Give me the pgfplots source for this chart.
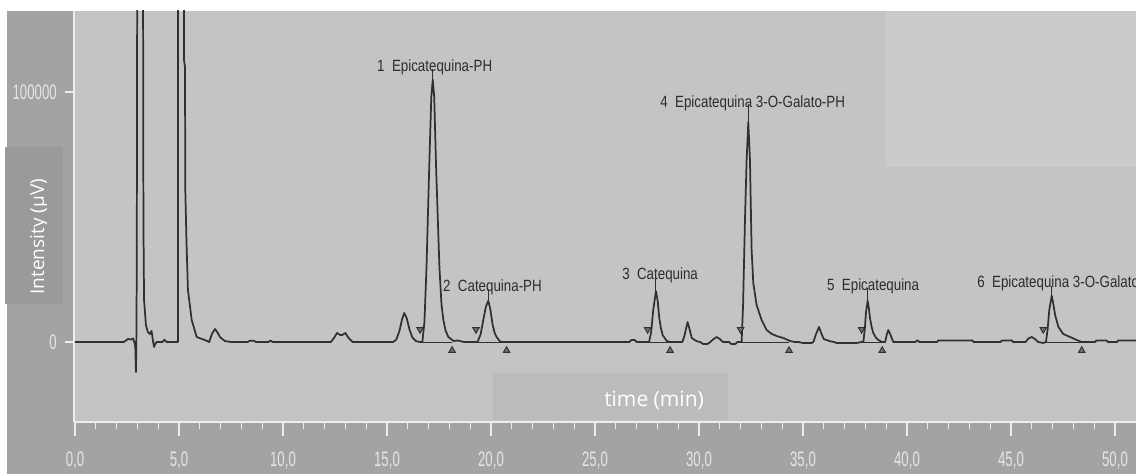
\documentclass[border=0pt]{standalone}
\usepackage{pgfplots}
\pgfplotsset{compat=1.18}
\usepackage{fontspec}
\setmainfont{Liberation Sans}
\newfontfamily\titlefont{Open Sans}

\definecolor{outerbg}{HTML}{A3A3A3}
\definecolor{plotbg}{HTML}{C4C4C4}
\definecolor{cornerbg}{HTML}{CBCBCB}
\definecolor{timebg}{HTML}{BBBBBB}
\definecolor{ybox}{HTML}{9A9A9A}
\definecolor{axcol}{HTML}{EDEDED}
\definecolor{ticktext}{HTML}{E6E6E6}
\definecolor{curve}{HTML}{303030}
\definecolor{lbltext}{HTML}{2C2C2C}
\definecolor{trifill}{HTML}{707070}

% narrow digits, like the instrument software
\newcommand{\nar}[1]{\scalebox{0.63}[1]{#1}}

\tikzset{plbl/.style={anchor=base west, inner sep=0pt, text=lbltext,
  font=\fontsize{12.2}{14}\selectfont, xscale=0.82}}

\begin{document}
\begin{tikzpicture}[x=0.75pt,y=0.75pt]
\path[use as bounding box] (0,0) rectangle (1136,474);
\clip (0,0) rectangle (1136,474);
\fill[white] (0,0) rectangle (1136,474);
\fill[outerbg] (7,0) rectangle (1136,463);
\fill[plotbg] (74,52) rectangle (1136,463);
\fill[cornerbg] (886,307) rectangle (1136,463);
\fill[timebg] (493,54) rectangle (728,101);
\fill[ybox] (5,170) rectangle (63,327);
\begin{scope}
  \clip (5,170) rectangle (46.5,327);
  \node[rotate=90, anchor=base west, inner sep=0pt, text=white,
    font=\titlefont\fontsize{14.3}{16}\selectfont] at (44,179) {Intensity (µV)};
\end{scope}
\begin{scope}
  \clip (493,64) rectangle (728,101);
  \node[anchor=base west, inner sep=0pt, text=white,
    font=\titlefont\fontsize{15.75}{18}\selectfont] at (604,67) {time (min)};
\end{scope}

\begin{axis}[
    at={(55.5pt,39pt)}, anchor=south west,
    scale only axis,
    width=796.5pt, height=308.25pt,
    xmin=-0.048, xmax=51.01,
    ymin=-32000, ymax=132400,
    axis x line*=bottom, axis y line*=left,
    axis line style={draw=axcol, line width=1.3pt, -},
    tick align=outside,
    major tick length=10.5pt, minor tick length=5.25pt,
    tick style={draw=axcol, line width=1pt},
    minor tick style={draw=axcol, line width=1pt},
    xtick={0,5,...,50},
    xticklabels={{\nar{0,0}},{\nar{5,0}},{\nar{10,0}},{\nar{15,0}},{\nar{20,0}},{\nar{25,0}},
                 {\nar{30,0}},{\nar{35,0}},{\nar{40,0}},{\nar{45,0}},{\nar{50,0}}},
    minor x tick num=4,
    ytick=\empty,
    extra y ticks={0,100000},
    extra y tick labels={{\nar{0}},{\nar{100000}}},
    extra y tick style={major tick length=6.75pt},
    minor ytick={-20000,20000,40000,60000,80000,120000},
    ticklabel style={font=\fontsize{15.75}{18}\selectfont, text=ticktext},
    xticklabel style={anchor=base, inner sep=0pt, yshift=-23.25pt},
    yticklabel style={anchor=east, inner sep=0pt, xshift=-6pt},
    scaled y ticks=false,
    /pgf/number format/assume math mode=true,
    unbounded coords=jump,
]

% chromatogram trace
\addplot[curve, line width=1.3pt, line join=round] coordinates {
(0,0) (2.35,0) (2.45,600) (2.55,1200) (2.7,1000) (2.8,1400) (2.85,0)
(2.9,-2000) (2.93,-12000) (2.95,0) (2.97,30000) (3.0,200000) (3.02,400000)
(3.22,400000) (3.27,150000) (3.29,48000) (3.32,16800) (3.41,6800) (3.5,4000)
(3.6,3200) (3.68,4400) (3.74,1000) (3.8,-2000) (3.86,-800) (3.92,0)
(4.2,0) (4.3,900) (4.4,0) (4.95,0) (4.97,400000)
(5.22,400000) (5.24,112800) (5.29,110000) (5.3,62000) (5.36,40000) (5.43,20800)
(5.61,8800) (5.85,2000) (6.33,500) (6.45,0) (6.6,3500) (6.73,5200) (6.85,3800)
(6.97,2000) (7.2,400) (7.5,0)
(8.3,0) (8.4,500) (8.6,500) (8.7,0) (9.3,0) (9.4,600) (9.5,0)
(12.3,0) (12.45,1600) (12.6,3600) (12.75,2800) (12.85,2800) (13.0,3600) (13.15,1600) (13.35,0)
(15.3,0) (15.45,1000) (15.6,4500) (15.72,9000) (15.83,11600) (15.95,9500)
(16.08,5000) (16.22,1800) (16.4,300) (16.6,0)
(16.7,0) (16.8,8000) (16.9,30000) (17.03,70000) (17.13,98000) (17.2,105000)
(17.27,98000) (17.36,70000) (17.52,30000) (17.62,15000) (17.71,8800) (17.82,4500)
(17.95,2000) (18.2,400) (18.4,600) (18.55,300) (18.7,0)
(19.35,0) (19.5,3000) (19.63,8800) (19.75,14000) (19.87,16500) (19.97,13000)
(20.08,6800) (20.18,3500) (20.27,2000) (20.43,200) (20.6,0)
(26.65,0) (26.75,800) (26.9,800) (27.0,0)
(27.6,0) (27.7,4000) (27.8,12800) (27.93,20400) (28.02,16000) (28.09,9600)
(28.17,5500) (28.25,2800) (28.45,400) (28.6,0)
(29.2,0) (29.3,2500) (29.45,8000) (29.55,5000) (29.65,1600) (29.89,300) (30.05,0)
(30.2,-800) (30.4,-800) (30.55,0) (30.7,1200) (30.85,2000) (31.0,1200) (31.15,0)
(31.45,0) (31.55,-800) (31.75,-800) (31.85,0)
(32.05,0) (32.12,15000) (32.21,48800) (32.29,72800) (32.37,88000) (32.45,72800)
(32.53,36800) (32.61,23600) (32.77,14800) (33.01,8800) (33.25,4800) (33.5,3200)
(33.73,2400) (34.05,1600) (34.38,400) (34.6,0)
(34.8,0) (35.0,-400) (35.4,-400) (35.5,0) (35.62,3000) (35.77,6000) (35.9,3000)
(36.0,1200) (36.3,300) (36.5,0) (36.6,-400) (37.6,-400) (37.8,0)
(37.9,0) (37.97,5000) (38.03,12000) (38.11,16500) (38.16,14000) (38.22,9600)
(38.3,6000) (38.38,3600) (38.5,1800) (38.62,800) (38.8,0)
(38.95,0) (39.03,3000) (39.1,4800) (39.2,3000) (39.34,0)
(40.4,0) (40.5,700) (40.6,0) (41.45,0) (41.5,600) (43.15,600) (43.2,0)
(44.5,0) (44.55,600) (45.05,600) (45.1,0) (45.7,0) (45.85,1500) (46.0,2000)
(46.15,1200) (46.3,0) (46.55,-400) (46.68,0)
(46.76,5000) (46.84,12800) (46.96,18500) (47.04,15000) (47.12,10800) (47.28,6000)
(47.51,3200) (47.84,2000) (48.16,800) (48.4,0)
(49.05,0) (49.1,600) (49.6,600) (49.65,0) (50.1,0) (50.15,600) (51.1,600)
};

% integration baselines and apex markers
\addplot[curve, line width=0.7pt] coordinates {
(16.59,0) (18.13,0) (nan,nan)
(19.28,0) (20.75,0) (nan,nan)
(27.53,0) (28.61,0) (nan,nan)
(32.0,0) (34.33,0) (nan,nan)
(37.82,0) (38.81,0) (nan,nan)
(46.55,0) (48.4,0) (nan,nan)
(17.2,105000) (17.2,109000) (nan,nan)
(19.87,16500) (19.87,21000) (nan,nan)
(27.93,20400) (27.93,25500) (nan,nan)
(32.37,88000) (32.37,95000) (nan,nan)
(38.11,16500) (38.11,21500) (nan,nan)
(46.96,18500) (46.96,22500)
};

% peak start marks
\addplot[only marks, mark=triangle*, mark size=2.8pt,
  mark options={rotate=180, draw=curve, fill=trifill, line width=0.7pt}]
coordinates {(16.59,5000) (19.28,5000) (27.53,5000) (32.0,5000) (37.82,5000) (46.55,5000)};
% peak end marks
\addplot[only marks, mark=triangle*, mark size=2.8pt,
  mark options={draw=curve, fill=trifill, line width=0.7pt}]
coordinates {(18.13,-3400) (20.75,-3400) (28.61,-3400) (34.33,-3400) (38.81,-3400) (48.4,-3400)};

\node[plbl] at (axis cs:14.52,108000) {1~~Epicatequina-PH};
\node[plbl] at (axis cs:17.69,20000) {2~~Catequina-PH};
\node[plbl] at (axis cs:26.3,24800) {3~~Catequina};
\node[plbl] at (axis cs:28.13,93600) {4~~Epicatequina 3-O-Galato-PH};
\node[plbl] at (axis cs:36.15,20400) {5~~Epicatequina};
\node[plbl] at (axis cs:43.37,21600) {6~~Epicatequina 3-O-Galato};
\end{axis}
\end{tikzpicture}
\end{document}
